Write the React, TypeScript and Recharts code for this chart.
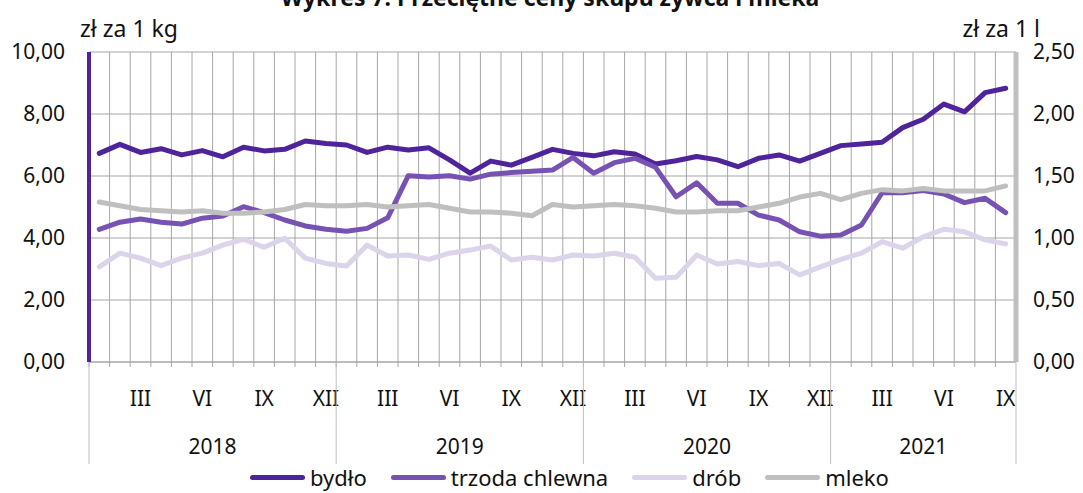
import React from 'react';
import { ComposedChart, Line, XAxis, YAxis, CartesianGrid, Legend } from 'recharts';

const ROMAN = ['I', 'II', 'III', 'IV', 'V', 'VI', 'VII', 'VIII', 'IX', 'X', 'XI', 'XII'];
const yearList = ['2018', '2019', '2020', '2021'];
const monthsPerYear = [12, 12, 12, 9];
const shownMonths = ['III', 'VI', 'IX', 'XII'];

const leftTicks = [0, 2, 4, 6, 8, 10];
const rightTicks = [0, 0.5, 1, 1.5, 2, 2.5];

const bydlo = [6.73, 7.02, 6.76, 6.88, 6.68, 6.82, 6.62, 6.93, 6.81, 6.86, 7.13, 7.05,
  7.0, 6.76, 6.93, 6.84, 6.91, 6.52, 6.09, 6.48, 6.35, 6.6, 6.86, 6.73,
  6.65, 6.78, 6.71, 6.39, 6.49, 6.63, 6.52, 6.3, 6.57, 6.68, 6.48, 6.73,
  6.98, 7.03, 7.09, 7.56, 7.83, 8.32, 8.07, 8.69, 8.83];
const trzoda = [4.28, 4.51, 4.61, 4.51, 4.45, 4.64, 4.71, 5.01, 4.82, 4.58, 4.39, 4.28,
  4.22, 4.31, 4.65, 6.01, 5.97, 6.01, 5.9, 6.06, 6.11, 6.15, 6.19, 6.6,
  6.09, 6.43, 6.57, 6.28, 5.33, 5.78, 5.12, 5.12, 4.74, 4.58, 4.2, 4.06,
  4.1, 4.42, 5.46, 5.46, 5.53, 5.42, 5.14, 5.28, 4.82];
const drob = [3.07, 3.51, 3.35, 3.11, 3.35, 3.51, 3.77, 3.96, 3.7, 3.99, 3.35, 3.18,
  3.1, 3.77, 3.42, 3.45, 3.31, 3.51, 3.61, 3.74, 3.29, 3.38, 3.29, 3.45,
  3.42, 3.51, 3.38, 2.7, 2.73, 3.45, 3.16, 3.24, 3.11, 3.18, 2.81, 3.07,
  3.31, 3.51, 3.88, 3.67, 4.04, 4.28, 4.2, 3.94, 3.81];
const mleko = [1.29, 1.26, 1.23, 1.22, 1.21, 1.22, 1.2, 1.2, 1.21, 1.23, 1.27, 1.26,
  1.26, 1.27, 1.25, 1.26, 1.27, 1.24, 1.21, 1.21, 1.2, 1.18, 1.27, 1.25,
  1.26, 1.27, 1.26, 1.24, 1.21, 1.21, 1.22, 1.22, 1.25, 1.28, 1.33, 1.36,
  1.31, 1.36, 1.39, 1.38, 1.4, 1.38, 1.38, 1.38, 1.42];

const COLORS = { bydlo: '#4F2399', trzoda: '#7852B2', drob: '#DCD4EA', mleko: '#BFBFBF' };
const FONT = "'Noto Sans', sans-serif";

const series = [
  { key: 'bydlo', name: 'bydło', color: COLORS.bydlo, axis: 'left' },
  { key: 'trzoda', name: 'trzoda chlewna', color: COLORS.trzoda, axis: 'left' },
  { key: 'drob', name: 'drób', color: COLORS.drob, axis: 'left' },
  { key: 'mleko', name: 'mleko', color: COLORS.mleko, axis: 'right' },
];

const categories: { month: string; year: string }[] = [];
yearList.forEach((yr, k) => {
  for (let m = 0; m < monthsPerYear[k]; m++) categories.push({ month: ROMAN[m], year: yr });
});

const data = categories.map((c, i) => ({
  month: c.month,
  year: c.year,
  bydlo: bydlo[i],
  trzoda: trzoda[i],
  drob: drob[i],
  mleko: mleko[i],
}));

const N = data.length;
const CHART_W = 1083;
const CHART_H = 493;
const LEFT_W = 89;
const RIGHT_W = 67;
const HALF_BAND = (CHART_W - LEFT_W - RIGHT_W) / (2 * N);

const fmt = (v: number) => v.toFixed(2).replace('.', ',');

function MonthTick(props: any) {
  const { x, y, payload, index } = props;
  const i: number = payload && typeof payload.index === 'number' ? payload.index : index;
  const half = HALF_BAND;
  const c = categories[i];
  const els: React.ReactNode[] = [];
  const textStyle = { fontFamily: FONT, fontSize: 21 };
  els.push(<line key="t" x1={x - half} x2={x - half} y1={y} y2={y + 5} stroke="#A6A6A6" />);
  if (i === 0 || categories[i - 1].year !== c.year) {
    els.push(<line key="ys" x1={x - half} x2={x - half} y1={y} y2={y + 102} stroke="#BFBFBF" />);
  }
  if (i === N - 1) {
    els.push(<line key="ye" x1={x + half} x2={x + half} y1={y} y2={y + 102} stroke="#BFBFBF" />);
  }
  if (shownMonths.includes(c.month)) {
    els.push(
      <text key="m" x={x} y={y + 44} textAnchor="middle" fill="#111" style={textStyle}>
        {c.month}
      </text>
    );
  }
  let first = -1;
  let last = -1;
  categories.forEach((cc, j) => {
    if (cc.year === c.year) {
      if (first < 0) first = j;
      last = j;
    }
  });
  const mid = (first + last) / 2;
  if (i === Math.floor(mid)) {
    els.push(
      <text key="y" x={x + (mid - i) * 2 * half} y={y + 92} textAnchor="middle" fill="#111" style={textStyle}>
        {c.year}
      </text>
    );
  }
  return <g>{els}</g>;
}

function renderLegend() {
  return (
    <div style={{ display: 'flex', alignItems: 'center', height: 21, lineHeight: '21px', paddingLeft: 250, fontFamily: FONT, fontSize: 22, color: '#111' }}>
      {series.map((s) => (
        <div key={s.key} style={{ display: 'flex', alignItems: 'center', marginRight: 24 }}>
          <span style={{ display: 'inline-block', width: 55, height: 5, borderRadius: 3, background: s.color, marginRight: 5 }} />
          <span>{s.name}</span>
        </div>
      ))}
    </div>
  );
}

export default function App() {
  return (
    <div style={{ position: 'absolute', left: 0, top: 0, width: CHART_W, height: CHART_H, background: '#fff', overflow: 'hidden' }}>
      <ComposedChart width={CHART_W} height={CHART_H} data={data} margin={{ top: 52, right: 0, bottom: 0, left: 0 }}>
        <CartesianGrid
          yAxisId="left"
          stroke="#A6A6A6"
          horizontal
          vertical
          verticalCoordinatesGenerator={({ offset }: any) =>
            Array.from({ length: N + 1 }, (_, k) => offset.left + (offset.width * k) / N)
          }
        />
        <XAxis
          dataKey="month"
          height={110}
          interval={0}
          padding={{ left: HALF_BAND, right: HALF_BAND }}
          tickLine={false}
          tickSize={0}
          tickMargin={0}
          axisLine={{ stroke: '#A6A6A6' }}
          tick={<MonthTick />}
        />
        <YAxis
          yAxisId="left"
          orientation="left"
          width={LEFT_W}
          domain={[0, 10]}
          ticks={leftTicks}
          tickFormatter={fmt}
          tickLine={false}
          tickSize={0}
          tickMargin={24}
          axisLine={{ stroke: COLORS.bydlo, strokeWidth: 4 }}
          tick={{ fill: '#111', fontSize: 21, fontFamily: FONT }}
        />
        <YAxis
          yAxisId="right"
          orientation="right"
          width={RIGHT_W}
          domain={[0, 2.5]}
          ticks={rightTicks}
          tickFormatter={fmt}
          tickLine={false}
          tickSize={0}
          tickMargin={17}
          axisLine={{ stroke: COLORS.mleko, strokeWidth: 5 }}
          tick={{ fill: '#111', fontSize: 21, fontFamily: FONT, textAnchor: 'start' }}
        />
        {series.map((s) => (
          <Line
            key={s.key}
            yAxisId={s.axis}
            dataKey={s.key}
            name={s.name}
            stroke={s.color}
            strokeWidth={5}
            dot={false}
            strokeLinejoin="round"
            strokeLinecap="round"
            isAnimationActive={false}
          />
        ))}
        <Legend
          verticalAlign="bottom"
          content={renderLegend}
          wrapperStyle={{ position: 'absolute', left: 0, top: 467, width: CHART_W, height: 21 }}
        />
      </ComposedChart>
      <svg width={CHART_W} height={CHART_H} style={{ position: 'absolute', left: 0, top: 0, pointerEvents: 'none' }}>
        <text x={550} y={6} textAnchor="middle" fontWeight="bold" fill="#111" style={{ fontFamily: FONT, fontSize: 23 }}>
          Wykres 7. Przeciętne ceny skupu żywca i mleka
        </text>
        <text x={80} y={37} fill="#111" style={{ fontFamily: FONT, fontSize: 23 }}>zł za 1 kg</text>
        <text x={1040} y={37} textAnchor="end" fill="#111" style={{ fontFamily: FONT, fontSize: 23 }}>zł za 1 l</text>
      </svg>
    </div>
  );
}
